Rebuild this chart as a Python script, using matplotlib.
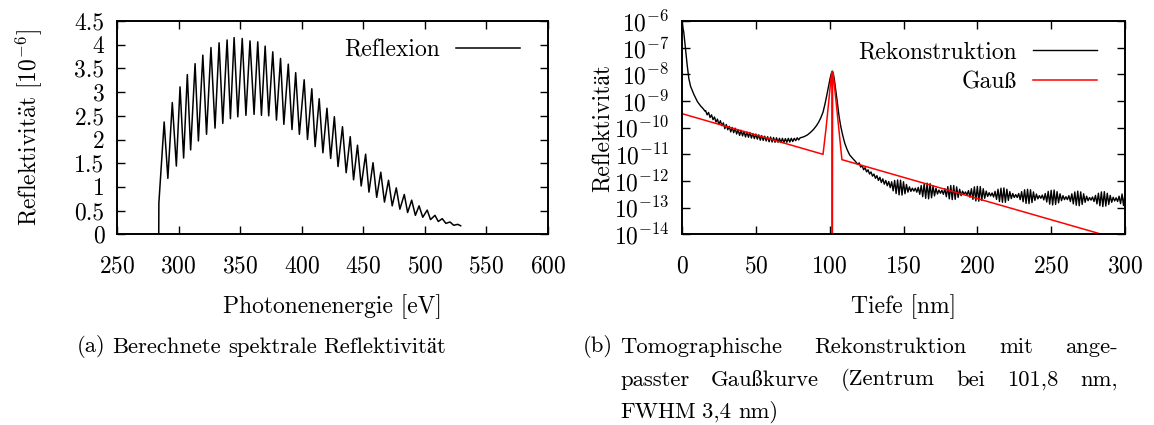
import numpy as np
import matplotlib
matplotlib.use("Agg")
import matplotlib.pyplot as plt
from matplotlib.ticker import LogFormatterMathtext, NullLocator, FixedLocator

start_e = [283.9, 284.0]
start_r = [0.0, 0.66]
peak_e = [288.3, 294.9, 301.2, 307.1, 313.4, 319.7, 326.3, 332.9, 339.4, 345.1,
          351.7, 358.0, 364.3, 370.3, 376.5, 382.8, 389.1, 395.1, 402.0, 408.2,
          414.2, 420.5, 426.5, 433.1, 439.4, 445.3, 451.9, 457.9, 464.2, 470.5,
          476.8, 483.3, 489.3, 495.3, 501.9, 508.2, 514.1, 520.4, 526.7]
peak_r = [2.37, 2.78, 3.11, 3.37, 3.60, 3.78, 3.94, 4.04, 4.10, 4.15,
          4.13, 4.08, 4.06, 3.97, 3.85, 3.71, 3.59, 3.41, 3.26, 3.07,
          2.86, 2.66, 2.48, 2.27, 2.06, 1.88, 1.69, 1.51, 1.31, 1.14,
          0.98, 0.84, 0.72, 0.60, 0.51, 0.40, 0.33, 0.26, 0.21]
trough_e = [291.3, 298.2, 304.1, 309.8, 316.1, 322.7, 329.6, 335.9, 342.1, 348.1,
            354.7, 361.3, 367.3, 373.2, 379.5, 385.5, 392.1, 398.1, 404.7, 410.9,
            417.2, 423.5, 429.5, 436.1, 442.1, 448.3, 454.6, 460.9, 467.2, 473.5,
            479.7, 486.0, 492.3, 498.3, 504.6, 510.9, 517.1, 523.4, 529.1]
trough_r = [1.18, 1.44, 1.61, 1.78, 1.97, 2.11, 2.24, 2.34, 2.44, 2.48,
            2.51, 2.53, 2.51, 2.50, 2.41, 2.32, 2.21, 2.11, 2.00, 1.85,
            1.72, 1.60, 1.43, 1.30, 1.15, 1.02, 0.89, 0.78, 0.68, 0.60,
            0.53, 0.46, 0.40, 0.36, 0.31, 0.27, 0.23, 0.19, 0.18]
a_xticks = [250, 300, 350, 400, 450, 500, 550, 600]
a_yticks = [0, 0.5, 1, 1.5, 2, 2.5, 3, 3.5, 4, 4.5]
a_ylabels = ["0", "0.5", "1", "1.5", "2", "2.5", "3", "3.5", "4", "4.5"]

# ---- (b) tomographic reconstruction, log10 of reflectivity vs depth [nm]
head_d = [0, 0.6, 1.2, 2.3, 3.5, 4.6, 5.8, 8.1, 10.4, 12.5, 14.5, 15.5]
head_l = [-6.0, -6.25, -6.42, -7.02, -7.65, -8.15, -8.45, -8.76, -9.02, -9.18, -9.30, -9.38]
mid_l = [-9.36, -9.52, -9.43, -9.62, -9.52, -9.70, -9.60, -9.79, -9.68, -9.88,   # 16..25
         -9.74, -9.93, -9.82, -10.04, -9.88, -10.08, -9.95, -10.16, -9.99, -10.19,  # 26..35
         -10.02, -10.24, -10.08, -10.29, -10.10, -10.31, -10.14, -10.35, -10.16, -10.36,
         -10.18, -10.39, -10.22, -10.41, -10.24, -10.43, -10.27, -10.47, -10.30, -10.48,
         -10.32, -10.50, -10.34, -10.53, -10.35, -10.54, -10.37, -10.55, -10.38, -10.55,
         -10.40, -10.56, -10.40, -10.56, -10.41, -10.55, -10.40, -10.54, -10.40, -10.52,
         -10.40, -10.49, -10.38, -10.46, -10.38]                                     # 76..80
bump_d = [81.5, 83, 85, 87, 89, 91, 92.5, 94, 95.5, 96.8, 98, 99.2, 100.3, 101.2,
          101.8, 102.5, 103.3, 104.2, 105.2, 106.3, 107.5, 108.8, 110.2, 111.8,
          113.5, 115.5, 117.5, 119.0]
bump_l = [-10.36, -10.33, -10.27, -10.18, -10.07, -9.93, -9.80, -9.63, -9.42, -9.12,
          -8.80, -8.45, -8.15, -7.95, -7.88, -7.97, -8.25, -8.62, -9.05, -9.55,
          -9.95, -10.28, -10.58, -10.82, -11.02, -11.15, -11.27, -11.38]
tail_l = [-11.32, -11.48, -11.42, -11.58, -11.50, -11.66, -11.58, -11.74, -11.66, -11.82,  # 120..129
          -11.74, -11.90, -11.80, -11.98, -11.86, -12.06, -11.92, -12.12, -11.98, -12.18,
          -12.02, -12.25, -12.03, -12.37, -11.98, -12.47, -11.96, -12.52, -11.97, -12.53,
          -12.03, -12.48, -12.13, -12.42, -12.22, -12.39, -12.27, -12.38, -12.27, -12.42,
          -12.24, -12.50, -12.17, -12.59, -12.11, -12.65, -12.08, -12.67, -12.10, -12.63,
          -12.18, -12.56, -12.27, -12.49, -12.34, -12.46, -12.35, -12.50, -12.29, -12.59,
          -12.21, -12.67, -12.17, -12.70, -12.17, -12.69, -12.22, -12.62, -12.31, -12.55,
          -12.38, -12.50, -12.41, -12.53, -12.36, -12.61, -12.29, -12.69, -12.22, -12.75,
          -12.20, -12.76, -12.21, -12.73, -12.29, -12.65, -12.38, -12.58, -12.44, -12.56,
          -12.45, -12.60, -12.39, -12.69, -12.31, -12.77, -12.27, -12.80, -12.26, -12.80,
          -12.31, -12.73, -12.40, -12.66, -12.47, -12.62, -12.51, -12.62, -12.47, -12.70,
          -12.40, -12.78, -12.33, -12.84, -12.31, -12.85, -12.33, -12.81, -12.41, -12.73,
          -12.49, -12.67, -12.55, -12.65, -12.53, -12.71, -12.47, -12.79, -12.39, -12.87,
          -12.35, -12.90, -12.34, -12.88, -12.40, -12.82, -12.48, -12.74, -12.55, -12.70,
          -12.59, -12.70, -12.55, -12.77, -12.48, -12.86, -12.41, -12.91, -12.38, -12.93,
          -12.41, -12.88, -12.48, -12.80, -12.57, -12.74, -12.62, -12.72, -12.60, -12.77,
          -12.54, -12.86, -12.46, -12.93, -12.41, -12.96, -12.40, -12.94, -12.46, -12.88,
          -12.54, -12.80, -12.61, -12.75, -12.63, -12.77, -12.57, -12.85, -12.49, -12.92,
          -12.45]                                                                          # 300
gauss_d = [0, 95.5, 97.5, 99.5, 100.8, 101.6, 101.8, 102.0, 102.8, 104.2, 106.3, 108.3, 300]
gauss_l = [-9.475, -11.0, -10.05, -8.95, -8.2, -7.9, -16.0, -7.9, -8.2, -8.95, -10.1, -11.2, -14.25]
b_xticks = [0, 50, 100, 150, 200, 250, 300]
b_decades = [-14, -13, -12, -11, -10, -9, -8, -7, -6]

plt.rcParams['font.family'] = ['cmr10', 'STIXGeneral']
plt.rcParams['mathtext.fontset'] = 'cm'
plt.rcParams['axes.formatter.use_mathtext'] = True
FS = 17
CAP_FS = 16.3

W, H = 1154, 425
fig = plt.figure(figsize=(W / 100, H / 100), dpi=100)


def px_axes(x0, x1, y0, y1):
    return fig.add_axes([x0 / W, 1 - y1 / H, (x1 - x0) / W, (y1 - y0) / H])


def style(ax):
    for s in ax.spines.values():
        s.set_linewidth(1.4)
    ax.tick_params(which='both', direction='in', top=True, right=True,
                   length=5.5, width=1.0, labelsize=FS)
    ax.tick_params(axis='x', pad=15)
    ax.tick_params(axis='y', pad=9)


ax1 = px_axes(117, 548, 21, 234.3)
ax2 = px_axes(682, 1125, 21, 234.3)

# (a)
e = np.concatenate([start_e, peak_e, trough_e])
r = np.concatenate([start_r, peak_r, trough_r])
order = np.argsort(e)
ax1.plot(e[order], r[order], color='black', lw=1.1, label='Reflexion')
ax1.set_xlim(250, 600)
ax1.set_ylim(0, 4.5)
ax1.set_xticks(a_xticks)
ax1.set_yticks(a_yticks)
ax1.set_yticklabels(a_ylabels)
style(ax1)
ax1.set_xlabel('Photonenenergie [eV]', fontsize=FS)
ax1.set_ylabel(r'Reflektivit$\ddot{\mathrm{a}}$t [$10^{-6}$]', fontsize=FS)
ax1.xaxis.set_label_coords(0.5, -0.34)
ax1.xaxis.label.set_va('center')
ax1.yaxis.set_label_coords(-0.205, 0.5)
ax1.yaxis.label.set_va('center')
ax1.legend(loc='upper right', bbox_to_anchor=(0.935, 0.915), frameon=False,
           markerfirst=False, handlelength=2.7, handletextpad=0.7, borderpad=0,
           borderaxespad=0, fontsize=FS)

# (b)
depth = np.concatenate([head_d, np.arange(16, 16 + len(mid_l)), bump_d,
                        np.arange(120, 120 + len(tail_l))])
logr = np.concatenate([head_l, mid_l, bump_l, tail_l])
ax2.plot(depth, 10.0 ** logr, color='black', lw=1.0, label='Rekonstruktion')
ax2.plot(gauss_d, 10.0 ** np.array(gauss_l), color='#ff0000', lw=1.1, label='Gauß')
ax2.set_yscale('log')
ax2.set_xlim(0, 300)
ax2.set_ylim(1e-14, 1e-6)
ax2.set_xticks(b_xticks)
ax2.yaxis.set_major_locator(FixedLocator([10.0 ** d for d in b_decades]))
ax2.yaxis.set_major_formatter(LogFormatterMathtext())
ax2.yaxis.set_minor_locator(NullLocator())
style(ax2)
ax2.set_xlabel('Tiefe [nm]', fontsize=FS)
ax2.set_ylabel('Reflektivität', fontsize=FS)
ax2.xaxis.set_label_coords(0.5, -0.34)
ax2.xaxis.label.set_va('center')
ax2.yaxis.set_label_coords(-0.178, 0.5)
ax2.yaxis.label.set_va('center')
ax2.legend(loc='upper right', bbox_to_anchor=(0.937, 0.905), frameon=False,
           markerfirst=False, handlelength=2.7, handletextpad=0.7, borderpad=0,
           borderaxespad=0, labelspacing=0.32, fontsize=FS)

# captions
renderer = fig.canvas.get_renderer()


def caption_line(words, x0, x1, y, justify):
    texts = [fig.text(0, 0, w, fontsize=CAP_FS, va='center', ha='left') for w in words]
    widths = [t.get_window_extent(renderer).width for t in texts]
    if justify and len(words) > 1:
        gap = (x1 - x0 - sum(widths)) / (len(words) - 1)
    else:
        gap = CAP_FS * 100 / 72 * 0.3
    x = x0
    for t, w in zip(texts, widths):
        t.set_position((x / W, 1 - y / H))
        x += w + gap


caption_line(['(a)', 'Berechnete', 'spektrale', 'Reflektivität'], 77, 441, 347, False)
caption_line(['(b)'], 583, 620, 347, False)
caption_line(['Tomographische', 'Rekonstruktion', 'mit', 'ange-'], 620, 1118, 347, True)
caption_line(['passter', 'Gaußkurve', '(Zentrum', 'bei', '101,8', 'nm,'], 620, 1118, 380, True)
caption_line(['FWHM', '3,4', 'nm)'], 620, 1118, 412, False)

fig.savefig('out.png', dpi=100)
